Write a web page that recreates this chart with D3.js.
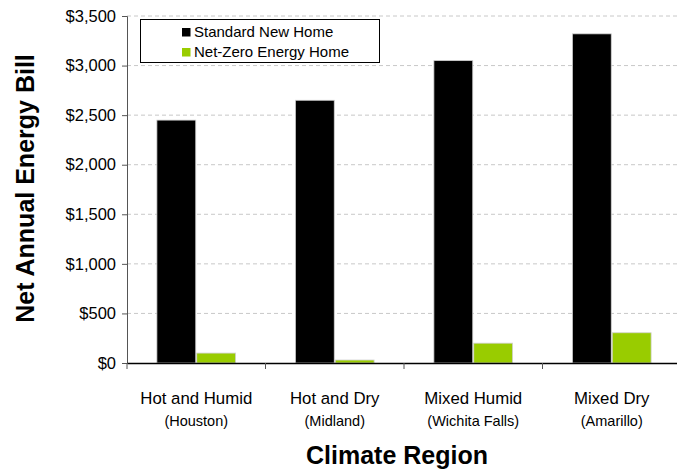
<!DOCTYPE html>
<html>
<head>
<meta charset="utf-8">
<script src="https://cdn.jsdelivr.net/npm/d3@7"></script>
<style>
  body { margin: 0; background: #fff; }
  svg { display: block; font-family: "Liberation Sans", Arial, sans-serif; }
</style>
</head>
<body>
<svg id="chart"></svg>
<script>
// data
const regions = ["Hot and Humid", "Hot and Dry", "Mixed Humid", "Mixed Dry"];
const cities = ["(Houston)", "(Midland)", "(Wichita Falls)", "(Amarillo)"];
const seriesNames = ["Standard New Home", "Net-Zero Energy Home"];
const standardHome = [2450, 2650, 3050, 3320];
const netZeroHome = [100, 30, 200, 305];
const yTicks = [0, 500, 1000, 1500, 2000, 2500, 3000, 3500];

const width = 677, height = 470;
const colors = ["#000000", "#99cc00"];

const svg = d3.select("#chart").attr("width", width).attr("height", height);

const x = d3.scaleBand().domain(regions).range([127, 681]).paddingInner(0).paddingOuter(0);
const y = d3.scaleLinear().domain([0, 3500]).range([363, 16]);
const xSub = d3.scaleBand().domain(seriesNames).range([0, x.bandwidth()]).paddingInner(0.025).paddingOuter(0.75);

// gridlines
svg.append("g")
  .selectAll("line")
  .data(yTicks.filter(d => d > 0))
  .join("line")
  .attr("x1", 127).attr("x2", width)
  .attr("y1", d => y(d)).attr("y2", d => y(d))
  .attr("stroke", "#c8c8c8")
  .attr("stroke-dasharray", "4,3");

// bars
const rows = regions.map((r, i) => ({ region: r, values: [standardHome[i], netZeroHome[i]] }));
const groups = svg.append("g").selectAll("g")
  .data(rows)
  .join("g")
  .attr("transform", d => `translate(${x(d.region)},0)`);

groups.selectAll("rect")
  .data(d => d.values.map((v, j) => ({ name: seriesNames[j], value: v, j })))
  .join("rect")
  .attr("x", d => xSub(d.name))
  .attr("width", xSub.bandwidth())
  .attr("y", d => y(d.value))
  .attr("height", d => y(0) - y(d.value))
  .attr("fill", d => colors[d.j])
  .attr("stroke", "#d0d0d0")
  .attr("stroke-width", 0.8);

// y axis
const yAxis = svg.append("g")
  .attr("transform", "translate(127,0)")
  .call(d3.axisLeft(y).tickValues(yTicks).tickSize(5).tickPadding(6)
    .tickFormat(d => "$" + d3.format(",")(d)));
yAxis.select(".domain").attr("stroke", "#555");
yAxis.selectAll(".tick line").attr("stroke", "#555");
yAxis.selectAll("text").attr("font-size", "16.5px").attr("fill", "#000")
  .attr("font-family", "Liberation Sans, Arial, sans-serif");

// x axis
const xAxis = svg.append("g")
  .attr("transform", "translate(0,363)")
  .call(d3.axisBottom(x).tickSize(0).tickFormat(""));
xAxis.select(".domain").attr("stroke", "#000").attr("stroke-width", 1.5);
svg.append("g")
  .selectAll("line")
  .data(regions)
  .join("line")
  .attr("x1", d => x(d)).attr("x2", d => x(d))
  .attr("y1", 363).attr("y2", 369)
  .attr("stroke", "#555");

// category labels
const labels = svg.append("g");
labels.selectAll("text.main")
  .data(regions)
  .join("text")
  .attr("class", "main")
  .attr("x", d => x(d) + x.bandwidth() / 2)
  .attr("y", 404)
  .attr("text-anchor", "middle")
  .attr("font-size", "16.8px")
  .text(d => d);
labels.selectAll("text.sub")
  .data(regions)
  .join("text")
  .attr("class", "sub")
  .attr("x", d => x(d) + x.bandwidth() / 2)
  .attr("y", 426)
  .attr("text-anchor", "middle")
  .attr("font-size", "14.5px")
  .text((d, i) => cities[i]);

// axis titles
svg.append("text")
  .attr("x", 397).attr("y", 464)
  .attr("text-anchor", "middle")
  .attr("font-size", "25px").attr("font-weight", "bold")
  .text("Climate Region");
svg.append("text")
  .attr("transform", "translate(34,188.5) rotate(-90)")
  .attr("text-anchor", "middle")
  .attr("font-size", "25px").attr("font-weight", "bold")
  .text("Net Annual Energy Bill");

// legend
const legend = svg.append("g");
legend.append("rect")
  .attr("x", 140.5).attr("y", 19.5).attr("width", 239).attr("height", 43)
  .attr("fill", "#fff").attr("stroke", "#000");
seriesNames.forEach((name, i) => {
  const base = 36.5 + i * 20;
  legend.append("rect")
    .attr("x", 182).attr("y", base - 8.5).attr("width", 8.5).attr("height", 8.5)
    .attr("fill", colors[i]);
  legend.append("text")
    .attr("x", 194).attr("y", base)
    .attr("font-size", "15px")
    .text(name);
});
</script>
</body>
</html>
